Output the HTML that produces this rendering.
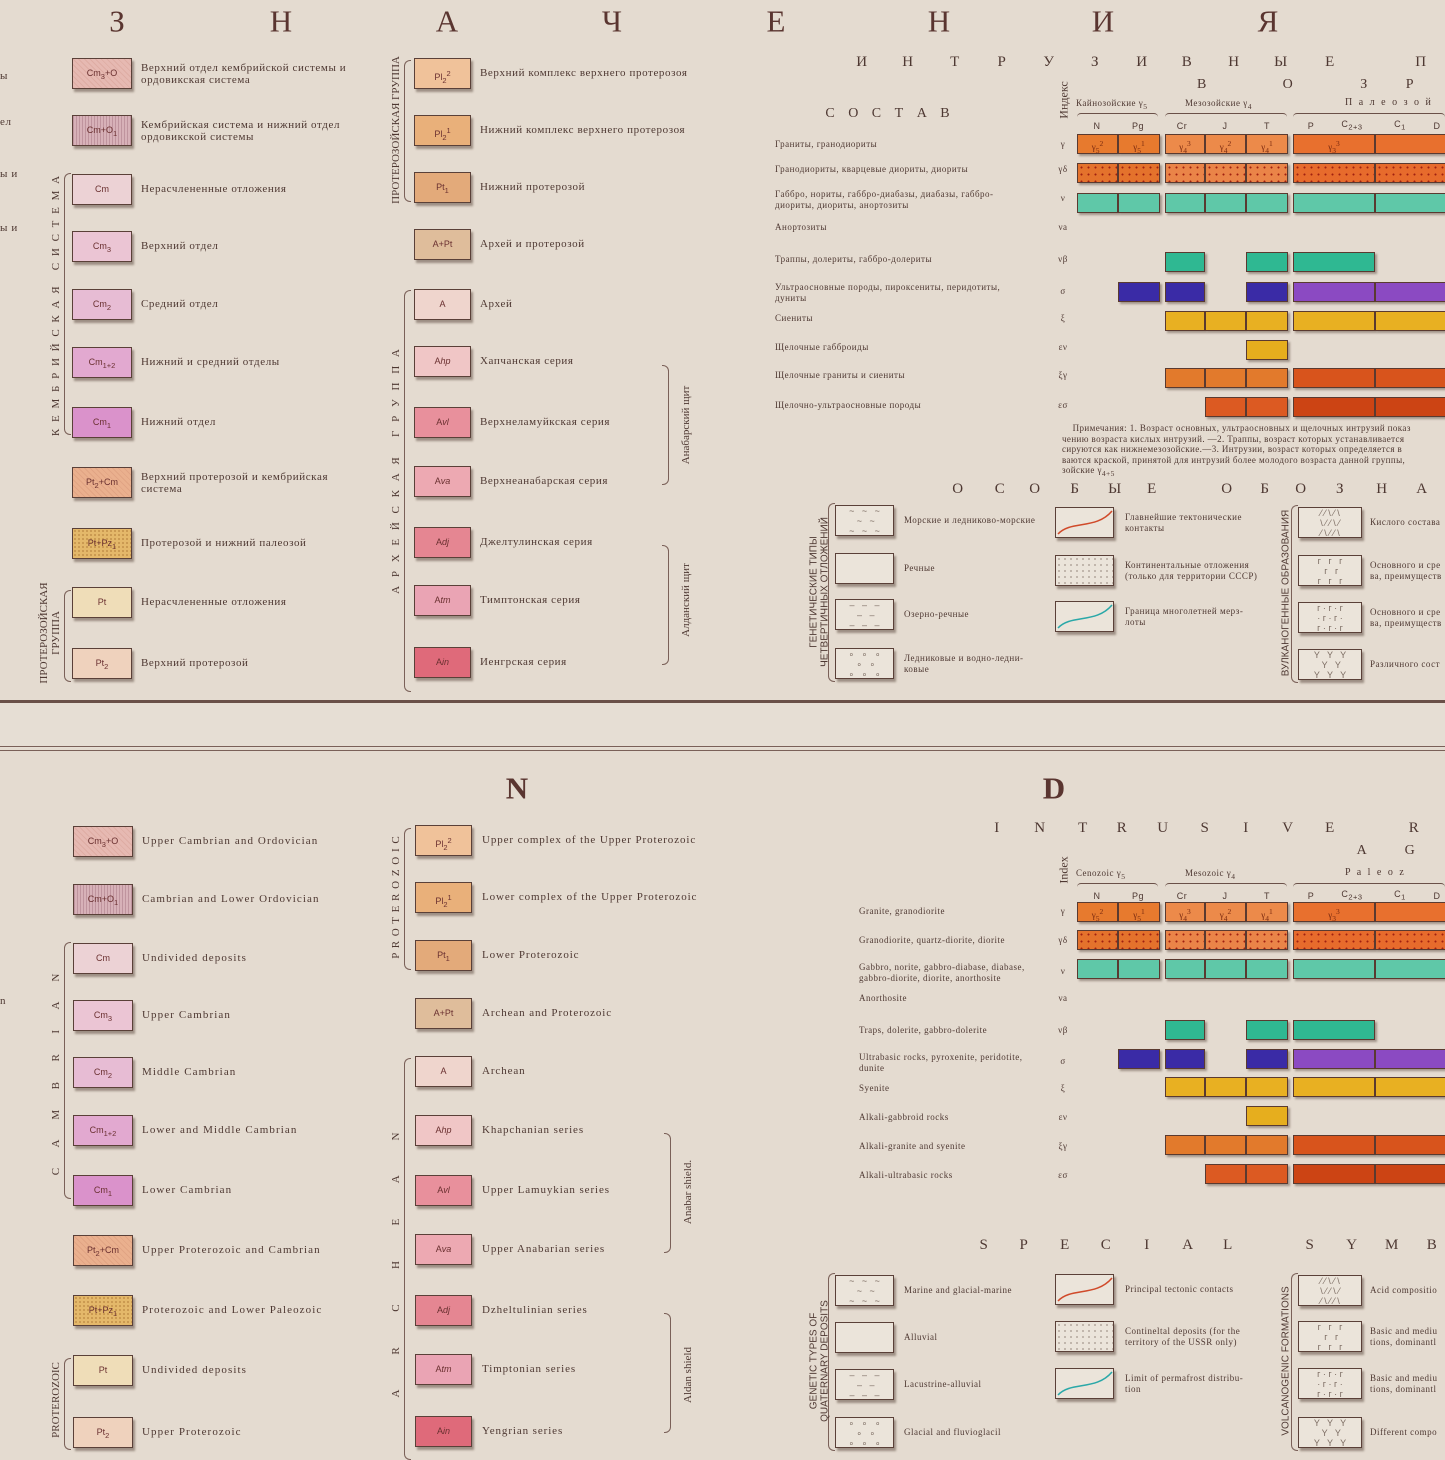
<!DOCTYPE html>
<html><head><meta charset="utf-8"><style>
html,body{margin:0;padding:0}
body{width:1445px;height:1445px;position:relative;overflow:hidden;background:#e4dbd0;font-family:"Liberation Serif","DejaVu Serif",serif;color:#4e3832}
.a{position:absolute;white-space:nowrap}
.t{font-size:11px;line-height:12px;letter-spacing:.6px}
.big{font-size:31px;color:#5a3530;line-height:31px;letter-spacing:0}
.box{position:absolute;border:1px solid #5a4038;box-shadow:2px 3px 2px rgba(70,50,40,.45);font-family:"Liberation Sans",sans-serif;font-size:9px;color:#6a3030;text-align:center}
.v{position:absolute;white-space:nowrap;transform:translate(-50%,-50%) rotate(-90deg);font-size:11px;letter-spacing:0px}
.seg{position:absolute;border:1px solid #5a3a30;box-shadow:2px 2px 2px rgba(60,40,30,.4);box-sizing:border-box;font-size:9px;color:#7a2a10;text-align:center}
.br{position:absolute;border:1px solid #7a6058;border-right:none;border-radius:6px 0 0 6px;width:6px}
.brr{position:absolute;border:1px solid #7a6058;border-left:none;border-radius:0 6px 6px 0;width:6px}
.n{font-size:9px;line-height:10.5px;letter-spacing:.5px}
</style></head><body>
<div class="a" style="left:0;top:700px;width:1445px;height:3px;background:#6a5048"></div>
<div class="a" style="left:0;top:703px;width:1445px;height:45px;background:#e6ded4"></div>
<div class="a" style="left:0;top:746px;width:1445px;height:1px;background:#7a6058"></div>
<div class="a" style="left:0;top:750px;width:1445px;height:1px;background:#7a6058"></div>
<div id="root"></div>
<script>
const R=document.getElementById('root');
function add(h){R.insertAdjacentHTML('beforeend',h)}
function txt(x,y,s,cls='t',st=''){add(`<div class="a ${cls}" style="left:${x}px;top:${y}px;${st}">${s}</div>`)}
function ctr(x,y,s,cls,st=''){add(`<div class="a ${cls}" style="left:${x}px;top:${y}px;transform:translate(-50%,-50%);${st}">${s}</div>`)}
function vt(x,y,s,st=''){add(`<div class="v" style="left:${x}px;top:${y}px;${st}">${s}</div>`)}
function box(x,cy,w,col,lab,extra=''){add(`<div class="box" style="left:${x}px;top:${cy-15}px;width:${w}px;height:29px;line-height:29px;background:${col};${extra}">${lab}</div>`)}
[['З',117],['Н',281],['А',447],['Ч',612],['Е',776],['Н',939],['И',1103],['Я',1268]].forEach(([c,x])=>ctr(x,21,c,'big'));
ctr(517,788,'N','big',"font-weight:bold");ctr(1054,788,'D','big',"font-weight:bold");
txt(0,70,'ы','t');txt(0,116,'ел','t');txt(0,168,'ы и','t');txt(0,222,'ы и','t');txt(0,995,'n','t');
const stripe='background-image:repeating-linear-gradient(90deg,rgba(120,60,80,.25) 0 1px,transparent 1px 3px);';
const hatch='background-image:repeating-linear-gradient(45deg,rgba(160,80,60,.12) 0 1px,transparent 1px 4px);';
const dots='background-image:radial-gradient(rgba(150,90,30,.35) 1px,transparent 1.2px);background-size:4px 4px;';
const L1=[['Cm<sub>3</sub>+O','#e6b9b2',hatch],['Cm+O<sub>1</sub>','#d7b1b8',stripe],['Cm','#ecd2d5'],['Cm<sub>3</sub>','#ebc5d4'],['Cm<sub>2</sub>','#e7bcd4'],['Cm<sub>1+2</sub>','#e2a9d0'],['Cm<sub>1</sub>','#da92cb'],['Pt<sub>2</sub>+Cm','#eab08e',hatch],['Pt+Pz<sub>1</sub>','#e4b86a',dots],['Pt','#efddb8'],['Pt<sub>2</sub>','#efd2bd']];
const L2=[['Pl<sub>2</sub><sup>2</sup>','#f0c29a'],['Pl<sub>2</sub><sup>1</sup>','#e9b07a'],['Pt<sub>1</sub>','#e3aa7a'],['A+Pt','#dfbd9b'],['A','#efd5cd'],['A<i>hp</i>','#f0c6c6'],['A<i>vl</i>','#e8909c'],['A<i>va</i>','#eda9b2'],['A<i>dj</i>','#e58692'],['A<i>tm</i>','#eaa4b4'],['A<i>in</i>','#df6a7a']];
const ruT1=['Верхний отдел кембрийской системы и<br>ордовикская система','Кембрийская система и нижний отдел<br>ордовикской системы','Нерасчлененные отложения','Верхний отдел','Средний отдел','Нижний и средний отделы','Нижний отдел','Верхний протерозой и кембрийская<br>система','Протерозой и нижний палеозой','Нерасчлененные отложения','Верхний протерозой'];
const ruT2=['Верхний комплекс верхнего протерозоя','Нижний комплекс верхнего протерозоя','Нижний протерозой','Архей и протерозой','Архей','Хапчанская серия','Верхнеламуйкская серия','Верхнеанабарская серия','Джелтулинская серия','Тимптонская серия','Иенгрская серия'];
const enT1=['Upper Cambrian and Ordovician','Cambrian and Lower Ordovician','Undivided deposits','Upper Cambrian','Middle Cambrian','Lower and Middle Cambrian','Lower Cambrian','Upper Proterozoic and Cambrian','Proterozoic and Lower Paleozoic','Undivided deposits','Upper Proterozoic'];
const enT2=['Upper complex of the Upper Proterozoic','Lower complex of the Upper Proterozoic','Lower Proterozoic','Archean and Proterozoic','Archean','Khapchanian series','Upper Lamuykian series','Upper Anabarian series','Dzheltulinian series','Timptonian series','Yengrian series'];
const y1=[73,130,189,246,304,362,422,482,543,602,663],y2=[73,130,187,244,304,361,422,481,542,600,662];
const y3=[841,899,958,1015,1072,1130,1190,1250,1310,1370,1432],y4=[840,897,955,1013,1071,1130,1190,1249,1310,1369,1431];
const es="letter-spacing:1.1px";
L1.forEach((b,i)=>{box(72,y1[i],58,b[1],b[0],b[2]||'');txt(141,y1[i]-(ruT1[i].includes('<br>')?11:6),ruT1[i],'t');
 box(73,y3[i],58,b[1],b[0],b[2]||'');txt(142,y3[i]-6,enT1[i],'t',es);});
L2.forEach((b,i)=>{box(414,y2[i],55,b[1],b[0]);txt(480,y2[i]-6,ruT2[i],'t');
 box(415,y4[i],55,b[1],b[0]);txt(482,y4[i]-6,enT2[i],'t',"letter-spacing:.9px");});
vt(56,305,'К Е М Б Р И Й С К А Я &nbsp; С И С Т Е М А',"letter-spacing:2px");add(`<div class="br" style="left:64px;top:173px;height:260px"></div>`);
vt(44,633,'ПРОТЕРОЗОЙСКАЯ');vt(56,633,'ГРУППА');add(`<div class="br" style="left:64px;top:590px;height:90px"></div>`);
vt(396,130,'ПРОТЕРОЗОЙСКАЯ ГРУППА');add(`<div class="br" style="left:404px;top:60px;height:140px"></div>`);
vt(396,470,'А Р Х Е Й С К А Я &nbsp; Г Р У П П А',"letter-spacing:3px");add(`<div class="br" style="left:404px;top:290px;height:400px"></div>`);
vt(686,425,'Анабарский щит');add(`<div class="brr" style="left:662px;top:365px;height:118px"></div>`);
vt(686,600,'Алданский щит');add(`<div class="brr" style="left:662px;top:545px;height:118px"></div>`);
vt(56,1072,'C &nbsp;A &nbsp;M &nbsp;B &nbsp;R &nbsp;I &nbsp;A &nbsp;N',"letter-spacing:5px");add(`<div class="br" style="left:64px;top:942px;height:255px"></div>`);
vt(56,1400,'PROTEROZOIC');add(`<div class="br" style="left:64px;top:1358px;height:90px"></div>`);
vt(396,897,'P R O T E R O Z O I C',"letter-spacing:1px");add(`<div class="br" style="left:404px;top:828px;height:140px"></div>`);
vt(396,1260,'A &nbsp;R &nbsp;C &nbsp;H &nbsp;E &nbsp;A &nbsp;N',"letter-spacing:10px");add(`<div class="br" style="left:404px;top:1058px;height:400px"></div>`);
vt(688,1192,'Anabar shield.');add(`<div class="brr" style="left:664px;top:1133px;height:118px"></div>`);
vt(688,1375,'Aldan shield');add(`<div class="brr" style="left:664px;top:1313px;height:118px"></div>`);

[['И',862],['Н',908],['Т',955],['Р',1002],['У',1049],['З',1095],['И',1142],['В',1187],['Н',1234],['Ы',1281],['Е',1330],['П',1421]].forEach(([c,x])=>ctr(x,62,c,'t',"font-size:15px"));
[['В',1202],['О',1288],['З',1364],['Р',1410]].forEach(([c,x])=>ctr(x,85,c,'t',"font-size:14px"));
ctr(890,114,'С О С Т А В','t',"font-size:14px;letter-spacing:5px");
[['I',997],['N',1040],['T',1083],['R',1122],['U',1163],['S',1205],['I',1246],['V',1288],['E',1330],['R',1414]].forEach(([c,x])=>ctr(x,828,c,'t',"font-size:15px"));
[['A',1362],['G',1410]].forEach(([c,x])=>ctr(x,851,c,'t',"font-size:14px"));
function intr(top,off,comp){
 const base=top;
 txt(1076,base+98+off,(off?'Cenozoic':'Кайнозойские')+' γ<sub>5</sub>','n');
 txt(1185,base+98+off,(off?'Mesozoic':'Мезозойские')+' γ<sub>4</sub>','n');
 txt(1345,base+98+off,off?'P a l e o z':'П а л е о з о й','n',"font-size:10px;letter-spacing:2px");
 vt(1064,base+100+off,off?'Index':'Индекс',"font-size:12px");
 [[1077,1158],[1165,1287],[1293,1445]].forEach(([a,b])=>add(`<div class="a" style="left:${a}px;top:${base+113+off}px;width:${b-a}px;height:5px;border-top:1px solid #6a5048;border-radius:4px 4px 0 0"></div>`));
 [['N',1097],['Pg',1138],['Cr',1182],['J',1225],['T',1267],['P',1311],['C<sub>2+3</sub>',1352],['C<sub>1</sub>',1400],['D',1437]].forEach(([c,x])=>ctr(x,base+126+off,c,'n',"font-family:'Liberation Sans',sans-serif"));
 comp.forEach((c,i)=>{txt(c[2],c[1]-(c[0].includes('<br>')?9:5),c[0],'n');ctr(1063,c[1],c[3],'n')});
}
const segs=[[1077,1118],[1118,1160],[1165,1205],[1205,1246],[1246,1288],[1293,1375],[1375,1450]];
function bar(cy,idx,col,lab,pat){idx.forEach(k=>{const[a,b]=segs[k];add(`<div class="seg" style="left:${a}px;top:${cy-10}px;width:${b-a}px;height:20px;line-height:18px;background:${typeof col=='function'?col(k):col};${pat||''}">${lab?lab[k]||'':''}</div>`)})}
const plus="background-image:radial-gradient(circle,#a02010 0.8px,transparent 1.2px);background-size:7px 7px;";
function bars(y){
 bar(y[0],[0,1,2,3,4,5,6],k=>k<2?'#e77a2e':k<5?'#ec8a4a':'#e8702e',['γ<sub>5</sub><sup>2</sup>','γ<sub>5</sub><sup>1</sup>','γ<sub>4</sub><sup>3</sup>','γ<sub>4</sub><sup>2</sup>','γ<sub>4</sub><sup>1</sup>','γ<sub>3</sub><sup>3</sup>','']);
 bar(y[1],[0,1,2,3,4,5,6],k=>k<2?'#e4722c':k<5?'#ea8448':'#e76b2c','',plus);
 bar(y[2],[0,1,2,3,4,5,6],'#5fc8a8');
 bar(y[3],[2,4,5],'#2fb892');
 bar(y[4],[1,2,4],'#3a2ba6');bar(y[4],[5,6],'#8b4ac2');
 bar(y[5],[2,3,4,5,6],'#e8b022');
 bar(y[6],[4],'#e6ae1e');
 bar(y[7],[2,3,4],'#e27a2c');bar(y[7],[5,6],'#d8541c');
 bar(y[8],[3,4],'#dc5a22');bar(y[8],[5,6],'#cc4414');
}
intr(0,0,[['Граниты, гранодиориты',144,775,'γ'],['Гранодиориты, кварцевые диориты, диориты',169,775,'γδ'],['Габбро, нориты, габбро-диабазы, диабазы, габбро-<br>диориты, диориты, анортозиты',198,775,'ν'],['Анортозиты',227,775,'νa'],['Траппы, долериты, габбро-долериты',259,775,'νβ'],['Ультраосновные породы, пироксениты, перидотиты,<br>дуниты',291,775,'σ'],['Сиениты',318,775,'ξ'],['Щелочные габброиды',347,775,'εν'],['Щелочные граниты и сиениты',375,775,'ξγ'],['Щелочно-ультраосновные породы',405,775,'εσ']]);
bars([144,173,203,262,292,321,350,378,407]);
txt(1062,423,'&nbsp;&nbsp;&nbsp;&nbsp;Примечания: 1. Возраст основных, ультраосновных и щелочных интрузий показ<br>чению возраста кислых интрузий. —2. Траппы, возраст которых устанавливается<br>сируются как нижнемезозойские.—3. Интрузии, возраст которых определяется в<br>ваются краской, принятой для интрузий более молодого возраста данной группы,<br>зойские γ<sub>4+5</sub>','n',"letter-spacing:.4px");
intr(0,770,[['Granite, granodiorite',911,859,'γ'],['Granodiorite, quartz-diorite, diorite',940,859,'γδ'],['Gabbro, norite, gabbro-diabase, diabase,<br>gabbro-diorite, diorite, anorthosite',971,859,'ν'],['Anorthosite',998,859,'νa'],['Traps, dolerite, gabbro-dolerite',1030,859,'νβ'],['Ultrabasic rocks, pyroxenite, peridotite,<br>dunite',1061,859,'σ'],['Syenite',1088,859,'ξ'],['Alkali-gabbroid rocks',1117,859,'εν'],['Alkali-granite and syenite',1146,859,'ξγ'],['Alkali-ultrabasic rocks',1175,859,'εσ']]);
bars([912,940,969,1030,1059,1087,1116,1145,1174]);
[['О',958],['С',1000],['О',1035],['Б',1075],['Ы',1115],['Е',1152],['О',1227],['Б',1265],['О',1301],['З',1340],['Н',1382],['А',1422]].forEach(([c,x])=>ctr(x,489,c,'t',"font-size:15px"));
[['S',984],['P',1024],['E',1065],['C',1106],['I',1147],['A',1188],['L',1228],['S',1310],['Y',1352],['M',1392],['B',1432]].forEach(([c,x])=>ctr(x,1245,c,'t',"font-size:15px"));
function sbox(x,cy,w,inner,bg){add(`<div class="box" style="left:${x}px;top:${cy-15}px;width:${w}px;height:29px;background:${bg||'#ebe4da'};color:#7a6a60;font-size:9px;line-height:10px;overflow:hidden">${inner}</div>`)}
const curve=c=>`<svg width="58" height="29" style="position:absolute;left:0;top:0"><path d="M2 26 C15 12,40 22,56 3" fill="none" stroke="${c}" stroke-width="1.5"/></svg>`;
const dotbg='background:#ebe4da radial-gradient(#8a7a70 0.6px,transparent 0.9px);background-size:6px 6px;';
function special(ys1,ys2,ys3,t1,t2,t3,lab1,lab2){
 const in1=['~ &nbsp; ~ &nbsp; ~<br>&nbsp;~ &nbsp; ~<br>~ &nbsp; ~ &nbsp; ~','','– &nbsp; – &nbsp; –<br>&nbsp;– &nbsp; –<br>– &nbsp; – &nbsp; –','∘ &nbsp; ∘ &nbsp; ∘<br>&nbsp;∘ &nbsp; ∘<br>∘ &nbsp; ∘ &nbsp; ∘'];
 ys1.forEach((y,i)=>{sbox(835,y,57,in1[i]);txt(904,y-(t1[i].includes('<br>')?10:5),t1[i],'n')});
 ys2.forEach((y,i)=>{ if(i==1) add(`<div class="box" style="left:1055px;top:${y-15}px;width:57px;height:29px;${dotbg}"></div>`); else sbox(1055,y,57,curve(i==0?'#d04a2a':'#2aa8a8'));txt(1125,y-(t2[i].includes('<br>')?10:5),t2[i],'n')});
 const in3=['⁄ ⁄ \\ ⁄ \\<br>\\ ⁄ ⁄ \\ ⁄<br>⁄ \\ ⁄ ⁄ \\','г &nbsp; г &nbsp; г<br>&nbsp;г &nbsp; г<br>г &nbsp; г &nbsp; г','г · г · г<br>· г · г ·<br>г · г · г','Y &nbsp; Y &nbsp; Y<br>&nbsp;Y &nbsp; Y<br>Y &nbsp; Y &nbsp; Y'];
 ys3.forEach((y,i)=>{sbox(1298,y,62,in3[i]);txt(1370,y-(t3[i].includes('<br>')?10:5),t3[i],'n')});
 add(`<div class="br" style="left:828px;top:${ys1[0]-17}px;height:${ys1[3]-ys1[0]+34}px"></div>`);
 add(`<div class="br" style="left:1291px;top:${ys3[0]-17}px;height:${ys3[3]-ys3[0]+34}px"></div>`);
 vt(814,(ys1[0]+ys1[3])/2,lab1[0],"font-family:'Liberation Sans',sans-serif;font-size:10px");vt(825,(ys1[0]+ys1[3])/2,lab1[1],"font-family:'Liberation Sans',sans-serif;font-size:10px");
 vt(1286,(ys3[0]+ys3[3])/2,lab2,"font-family:'Liberation Sans',sans-serif;font-size:10px");
}
special([520,568,614,663],[522,570,616],[522,570,617,664],['Морские и ледниково-морские','Речные','Озерно-речные','Ледниковые и водно-ледни-<br>ковые'],['Главнейшие тектонические<br>контакты','Континентальные отложения<br>(только для территории СССР)','Граница многолетней мерз-<br>лоты'],['Кислого состава','Основного и сре<br>ва, преимуществ','Основного и сре<br>ва, преимуществ','Различного сост'],['ГЕНЕТИЧЕСКИЕ ТИПЫ','ЧЕТВЕРТИЧНЫХ ОТЛОЖЕНИЙ'],'ВУЛКАНОГЕННЫЕ ОБРАЗОВАНИЯ');
special([1290,1337,1384,1432],[1289,1336,1383],[1290,1336,1383,1432],['Marine and glacial-marine','Alluvial','Lacustrine-alluvial','Glacial and fluvioglacil'],['Principal tectonic contacts','Contineltal deposits (for the<br>territory of the USSR only)','Limit of permafrost distribu-<br>tion'],['Acid compositio','Basic and mediu<br>tions, dominantl','Basic and mediu<br>tions, dominantl','Different compo'],['GENETIC TYPES OF','QUATERNARY DEPOSITS'],'VOLCANOGENIC FORMATIONS');
</script>
</body></html>
